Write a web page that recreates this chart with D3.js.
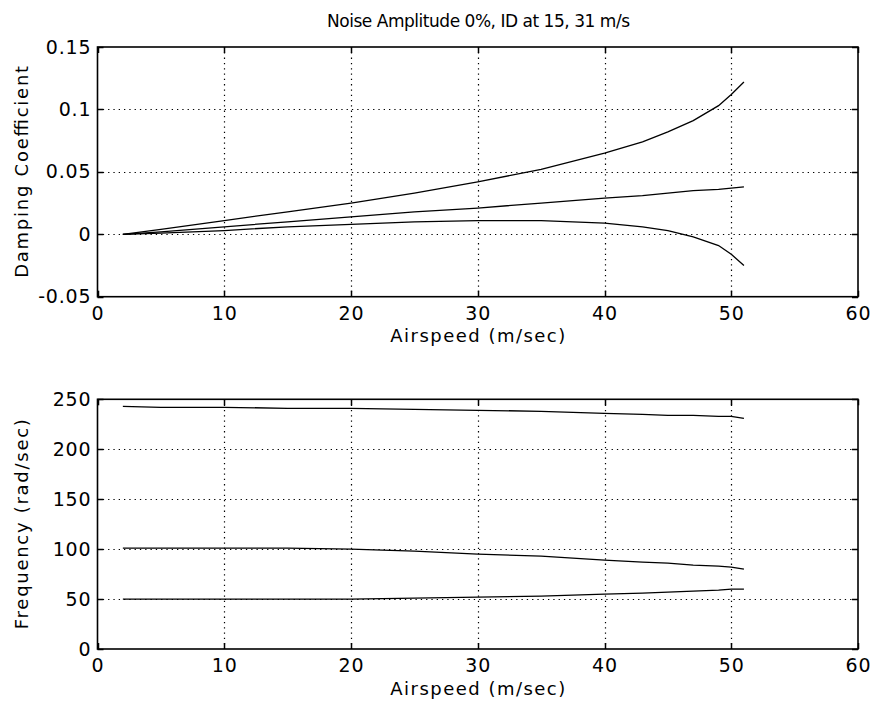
<!DOCTYPE html>
<html><head><meta charset="utf-8">
<script src="https://cdn.jsdelivr.net/npm/d3@7"></script>
<style>
body{margin:0;background:#fff;}
svg text{font-family:"DejaVu Sans","Liberation Sans",Arial,sans-serif;fill:#000;}
</style></head>
<body><svg id="c" width="875" height="704"></svg>
<script>
const titleText = "Noise Amplitude 0%, ID at 15, 31 m/s";
const xLabel = "Airspeed (m/sec)";
const yLabelTop = "Damping Coefficient";
const yLabelBottom = "Frequency (rad/sec)";
const xTicks = [0,10,20,30,40,50,60];
const yTicksTop = [-0.05,0,0.05,0.1,0.15];
const yTickLabelsTop = ["-0.05","0","0.05","0.1","0.15"];
const yTicksBottom = [0,50,100,150,200,250];

const airspeed = [2,5,10,15,20,25,30,35,40,43,45,47,49,50,51];
const dampUpper = [0,0.004,0.011,0.018,0.025,0.033,0.042,0.052,0.065,0.074,0.082,0.091,0.103,0.112,0.122];
const dampMiddle = [0,0.002,0.006,0.010,0.014,0.018,0.021,0.025,0.029,0.031,0.033,0.035,0.036,0.037,0.038];
const dampLower = [0,0.001,0.003,0.006,0.008,0.010,0.011,0.011,0.009,0.006,0.003,-0.002,-0.009,-0.016,-0.025];
const freqHigh = [243,242,242,241,241,240,239,238,236,235,234,234,233,233,231];
const freqMid = [101,101,101,101,100,98,95,93,89,87,86,84,83,82,80];
const freqLow = [50,50,50,50,50,51,52,53,55,56,57,58,59,60,60];

const svg = d3.select("#c");
const left = 97.5, right = 858;
const x = d3.scaleLinear().domain([0,60]).range([left,right]);
const tickFont = 19, tickSpacing = 0.8;

function panel(y0, y1, domain, ticks, tickLabels, ylab, ylabLen, series){
  const y = d3.scaleLinear().domain(domain).range([y1,y0]);
  const g = svg.append("g");
  g.selectAll(".gx").data(xTicks.slice(1,-1)).enter().append("line")
    .attr("x1",d=>Math.round(x(d))+0.5).attr("x2",d=>Math.round(x(d))+0.5)
    .attr("y1",y0).attr("y2",y1)
    .attr("stroke","#000").attr("stroke-width",1.2).attr("stroke-dasharray","1.3,4");
  g.selectAll(".gy").data(ticks.slice(1,-1)).enter().append("line")
    .attr("y1",d=>Math.round(y(d))+0.5).attr("y2",d=>Math.round(y(d))+0.5)
    .attr("x1",left).attr("x2",right)
    .attr("stroke","#000").attr("stroke-width",1.2).attr("stroke-dasharray","1.3,4");
  const line = d3.line().x((d,i)=>x(airspeed[i])).y(d=>y(d));
  series.forEach(s=>{
    g.append("path").attr("d",line(s)).attr("fill","none").attr("stroke","#000").attr("stroke-width",1.3);
  });
  g.append("rect").attr("x",left).attr("y",y0).attr("width",right-left).attr("height",y1-y0)
    .attr("fill","none").attr("stroke","#000").attr("stroke-width",1.6);
  const tl = 6;
  xTicks.forEach(t=>{
    const xx = Math.round(x(t))+0.5;
    g.append("line").attr("x1",xx).attr("x2",xx).attr("y1",y1).attr("y2",y1-tl).attr("stroke","#000").attr("stroke-width",1.5);
    g.append("line").attr("x1",xx).attr("x2",xx).attr("y1",y0).attr("y2",y0+tl).attr("stroke","#000").attr("stroke-width",1.5);
    g.append("text").attr("x",x(t)+tickSpacing/2).attr("y",y1+23).attr("text-anchor","middle")
      .attr("font-size",tickFont).attr("letter-spacing",tickSpacing).text(t);
  });
  ticks.forEach((t,i)=>{
    const yy = Math.round(y(t))+0.5;
    g.append("line").attr("y1",yy).attr("y2",yy).attr("x1",left).attr("x2",left+tl).attr("stroke","#000").attr("stroke-width",1.5);
    g.append("line").attr("y1",yy).attr("y2",yy).attr("x1",right).attr("x2",right-tl).attr("stroke","#000").attr("stroke-width",1.5);
    g.append("text").attr("x",left-7+tickSpacing).attr("y",y(t)+6.5).attr("text-anchor","end")
      .attr("font-size",tickFont).attr("letter-spacing",tickSpacing).text(tickLabels[i]);
  });
  g.append("text").attr("x",x(30)).attr("y",y1+45.5).attr("text-anchor","middle").attr("font-size",18)
    .attr("textLength",175).attr("lengthAdjust","spacing").text(xLabel);
  g.append("text").attr("transform",`translate(28,${(y0+y1)/2}) rotate(-90)`).attr("text-anchor","middle").attr("font-size",18)
    .attr("textLength",ylabLen).attr("lengthAdjust","spacing").text(ylab);
}

panel(47, 296.7, [-0.05,0.15], yTicksTop, yTickLabelsTop, yLabelTop, 212, [dampUpper,dampMiddle,dampLower]);
panel(399.3, 649, [0,250], yTicksBottom, yTicksBottom.map(String), yLabelBottom, 210, [freqHigh,freqMid,freqLow]);
svg.append("text").attr("x",478.5).attr("y",27).attr("text-anchor","middle").attr("font-size",17)
  .attr("textLength",303).attr("lengthAdjust","spacing").text(titleText);
</script></body></html>
